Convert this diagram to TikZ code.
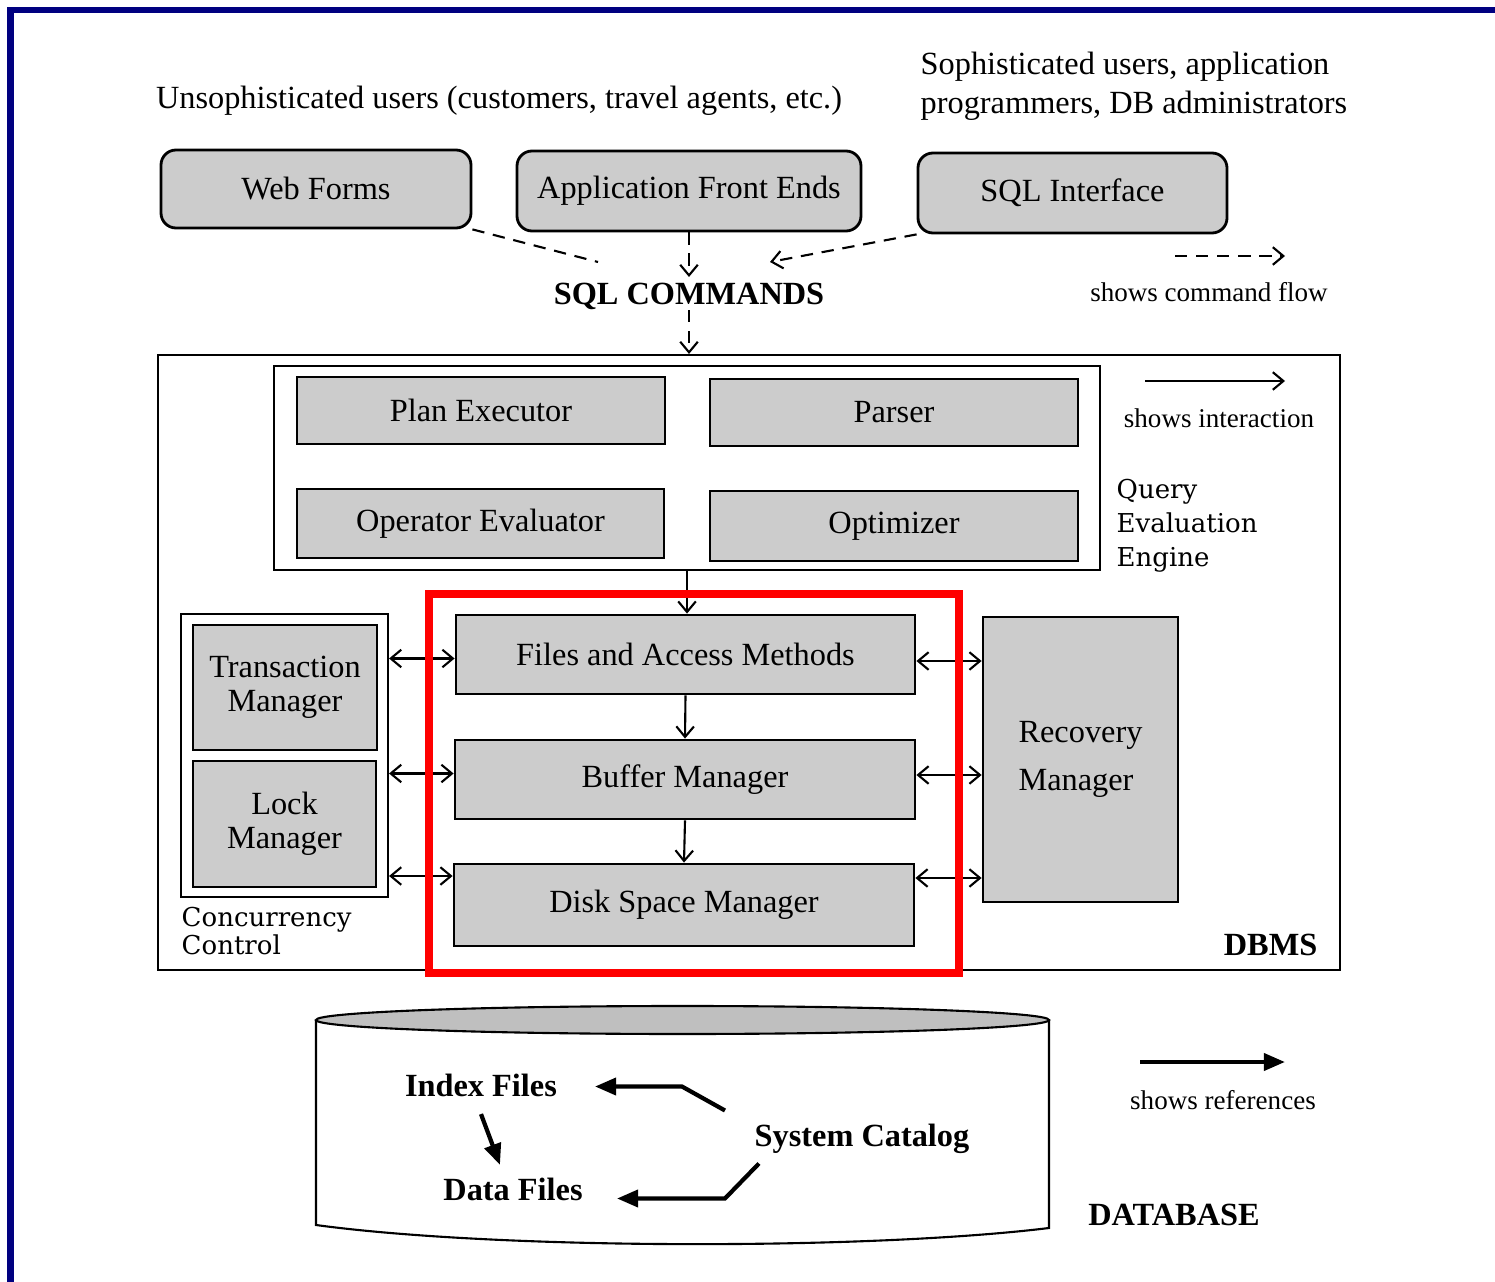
\documentclass[tikz,border=0pt]{standalone}
\usepackage{fontspec}
\setmainfont{Liberation Serif}
\newfontfamily\widefont{DejaVu Serif}
\usetikzlibrary{arrows.meta,calc}
\definecolor{framenavy}{RGB}{0,0,128}

\begin{document}
\begin{tikzpicture}[
        font=\fontsize{9.2}{9.7}\selectfont, inner sep=0pt,
        module/.style={draw, thick, fill=black!20},
        front/.style={module, rounded corners=0.15cm},
        frame/.style={draw, semithick},
        boldtext/.style={font=\fontsize{9.2}{9.7}\selectfont\bfseries},
        legend/.style={font=\fontsize{7.7}{9}\selectfont},
        widetext/.style={font=\widefont\fontsize{7.4}{9.7}\selectfont, align=left, anchor=west},
        flow/.style={semithick, dash pattern=on 3.5pt off 2.5pt, -{Straight Barb[length=3pt,width=5pt]}},
        inter/.style={semithick, -{Straight Barb[length=3pt,width=5pt]}},
        both/.style={semithick, {Straight Barb[length=3pt,width=5pt]}-{Straight Barb[length=3pt,width=5pt]}},
        refarrow/.style={line width=1.2pt, -{Triangle[length=6pt,width=4.8pt]}}
    ]
    \useasboundingbox (0,0) rectangle (14.95,-12.82);
    \fill[framenavy] (0.07,-0.07) rectangle (0.14,-12.82);
    \fill[framenavy] (0.07,-0.07) rectangle (14.95,-0.13);

    \node (naive) at (4.99,-1.01) {Unsophisticated users (customers, travel agents, etc.)};
    \node[anchor=west, align=left, font=\fontsize{9.2}{11}\selectfont] (expert) at (9.20,-0.86) {Sophisticated users, application\\programmers, DB administrators};

    \node[front, minimum width=3.10cm, minimum height=0.78cm] (web) at (3.16,-1.89) {Web Forms};
    \node[front, minimum width=3.44cm, minimum height=0.80cm] (app) at (6.89,-1.91) {Application Front Ends};
    \node[front, minimum width=3.09cm, minimum height=0.80cm] (sqli) at (10.725,-1.93) {SQL Interface};

    \node[boldtext] (cmds) at (6.89,-2.96) {SQL COMMANDS};
    \coordinate (cmdsL) at (5.98,-2.62);
    \coordinate (cmdsR) at (7.70,-2.62);
    \draw[flow, -] (web.south east) -- (cmdsL);
    \draw[flow] (app.south) -- ([yshift=0.05cm]cmds.north);
    \draw[flow] (sqli.south west) -- (cmdsR);

    \coordinate (cmdA) at (11.75,-2.56);
    \coordinate (cmdB) at (12.85,-2.56);
    \draw[flow] (cmdA) -- (cmdB);
    \node[legend] (cmdtxt) at (12.09,-2.92) {shows command flow};

    \node[frame, minimum width=11.82cm, minimum height=6.15cm] (dbms) at (7.49,-6.625) {};
    \node[boldtext, anchor=east] (dbmstxt) at (13.18,-9.45) {DBMS};
    \draw[flow] (cmds.south) -- (cmds.south |- dbms.north);

    \coordinate (intA) at (11.45,-3.81);
    \coordinate (intB) at (12.85,-3.81);
    \draw[inter] (intA) -- (intB);
    \node[legend] (inttxt) at (12.19,-4.18) {shows interaction};

    \node[frame, minimum width=8.26cm, minimum height=2.04cm] (qee) at (6.87,-4.68) {};
    \node[module, minimum width=3.68cm, minimum height=0.67cm] (plan) at (4.81,-4.105) {Plan Executor};
    \node[module, minimum width=3.68cm, minimum height=0.67cm] (parser) at (8.94,-4.125) {Parser};
    \node[module, minimum width=3.67cm, minimum height=0.69cm] (opeval) at (4.805,-5.235) {Operator Evaluator};
    \node[module, minimum width=3.68cm, minimum height=0.70cm] (optim) at (8.94,-5.26) {Optimizer};
    \node[widetext] (qeetxt) at (11.16,-5.26) {Query\\Evaluation\\Engine};

    \node[module, minimum width=4.59cm, minimum height=0.79cm] (fam) at (6.855,-6.545) {Files and Access Methods};
    \node[module, minimum width=4.60cm, minimum height=0.79cm] (buf) at (6.85,-7.795) {Buffer Manager};
    \node[module, minimum width=4.60cm, minimum height=0.82cm] (dsm) at (6.84,-9.05) {Disk Space Manager};
    \draw[inter] (qee.south) -- (qee.south |- fam.north);
    \draw[inter] (fam.south) -- (buf.north);
    \draw[inter] (buf.south) -- (dsm.north);

    \node[frame, minimum width=2.07cm, minimum height=2.83cm] (cc) at (2.845,-7.555) {};
    \node[module, minimum width=1.84cm, minimum height=1.25cm, align=center] (txn) at (2.85,-6.875) {Transaction\\Manager};
    \node[module, minimum width=1.83cm, minimum height=1.26cm, align=center] (lock) at (2.845,-8.24) {Lock\\Manager};
    \node[widetext, font=\widefont\fontsize{7.4}{8}\selectfont] (cctxt) at (1.81,-9.31) {Concurrency\\Control};

    \node[module, minimum width=1.95cm, minimum height=2.85cm, align=left] (rec) at (10.805,-7.595) {Recovery\\[4pt]Manager};

    \draw[both] ([yshift=-0.04cm]fam.west -| cc.east) -- ([yshift=-0.04cm]fam.west);
    \draw[both] ([yshift=0.06cm]buf.west -| cc.east) -- ([yshift=0.06cm]buf.west);
    \draw[both] ([yshift=0.29cm]dsm.west -| cc.east) -- ([yshift=0.29cm]dsm.west);
    \draw[both] ([yshift=-0.065cm]fam.east) -- ([yshift=-0.065cm]fam.east -| rec.west);
    \draw[both] ([yshift=0.045cm]buf.east) -- ([yshift=0.045cm]buf.east -| rec.west);
    \draw[both] ([yshift=0.27cm]dsm.east) -- ([yshift=0.27cm]dsm.east -| rec.west);

    \node[draw=red, line width=0.08cm, minimum width=5.30cm, minimum height=3.79cm] (focus) at (6.94,-7.835) {};

    \draw[semithick] (3.16,-10.20) -- (3.16,-12.25) .. controls (5.0,-12.50) and (8.7,-12.50) .. (10.49,-12.28) -- (10.49,-10.20);
    \draw[semithick, fill=black!25] (6.825,-10.20) ellipse (3.665 and 0.14);

    \node[boldtext] (idx) at (4.81,-10.85) {Index Files};
    \node[boldtext] (data) at (5.13,-11.89) {Data Files};
    \node[boldtext] (cat) at (8.62,-11.39) {System Catalog};
    \draw[refarrow] ([xshift=-0.29cm,yshift=0.13cm]cat.north west) -- ++(-0.43,0.24) -- ++(-0.87,0);
    \draw[refarrow] ([xshift=0.05cm,yshift=-0.09cm]cat.south west) -- ++(-0.34,-0.35) -- ++(-1.08,0);
    \draw[refarrow] ([yshift=-0.17cm]idx.south) -- ([xshift=-0.13cm,yshift=0.12cm]data.north);

    \coordinate (refA) at (11.40,-10.62);
    \coordinate (refB) at (12.85,-10.62);
    \draw[refarrow] (refA) -- (refB);
    \node[legend] (reftxt) at (12.23,-11.00) {shows references};
    \node[boldtext] (dbtxt) at (11.74,-12.15) {DATABASE};
\end{tikzpicture}
\end{document}
